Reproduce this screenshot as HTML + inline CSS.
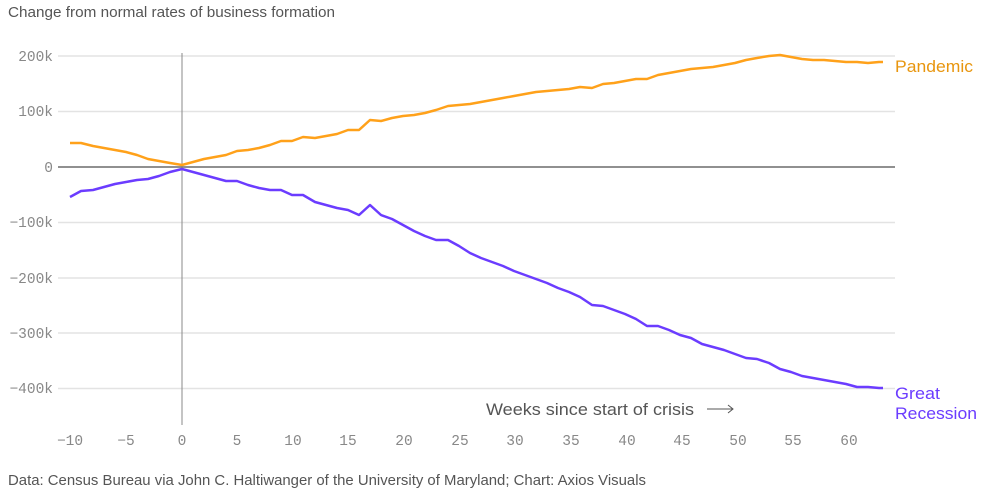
<!DOCTYPE html>
<html><head><meta charset="utf-8"><style>
body{margin:0;background:#fff;width:987px;height:497px;overflow:hidden;font-family:"Liberation Sans",sans-serif}
</style></head><body>
<svg width="987" height="497" xmlns="http://www.w3.org/2000/svg">
<text x="8" y="17" font-size="15" fill="#555" font-family="Liberation Sans" textLength="327" lengthAdjust="spacingAndGlyphs">Change from normal rates of business formation</text>
<g stroke="#e3e3e3" stroke-width="1.5">
<line x1="58" y1="56" x2="895" y2="56"/><line x1="58" y1="111.5" x2="895" y2="111.5"/>
<line x1="58" y1="222.5" x2="895" y2="222.5"/><line x1="58" y1="278" x2="895" y2="278"/>
<line x1="58" y1="333" x2="895" y2="333"/><line x1="58" y1="388.5" x2="895" y2="388.5"/>
</g>
<line x1="58" y1="167" x2="895" y2="167" stroke="#222" stroke-width="1"/>
<line x1="182" y1="53" x2="182" y2="425" stroke="#888" stroke-width="1"/>
<g font-family="Liberation Mono" font-size="14.5" fill="#888" text-anchor="end">
<text x="53" y="61">200k</text><text x="53" y="116">100k</text><text x="53" y="172">0</text>
<text x="53" y="227">−100k</text><text x="53" y="283">−200k</text><text x="53" y="338">−300k</text><text x="53" y="393">−400k</text>
</g>
<g font-family="Liberation Mono" font-size="14.5" fill="#888" text-anchor="middle">
<text x="70" y="445">−10</text><text x="126" y="445">−5</text><text x="182" y="445">0</text><text x="237" y="445">5</text><text x="293" y="445">10</text><text x="348" y="445">15</text><text x="404" y="445">20</text><text x="460" y="445">25</text><text x="515" y="445">30</text><text x="571" y="445">35</text><text x="627" y="445">40</text><text x="682" y="445">45</text><text x="738" y="445">50</text><text x="793" y="445">55</text><text x="849" y="445">60</text>
</g>
<polyline fill="none" stroke="#ffa11a" stroke-width="2.5" stroke-linejoin="round" points="70,143 81,143 93,146 104,148 115,150 126,152 137,155 148,159 159,161 170,163 182,165 193,162 204,159 215,157 226,155 237,151 248,150 259,148 270,145 281,141 292,141 303,137 315,138 326,136 337,134 348,130 359,130 370,120 381,121 392,118 403,116 414,115 425,113 436,110 448,106 459,105 470,104 481,102 492,100 503,98 514,96 525,94 536,92 547,91 558,90 569,89 580,87 592,88 603,84 614,83 625,81 636,79 647,79 658,75 669,73 680,71 691,69 702,68 713,67 724,65 735,63 746,60 757,58 769,56 780,55 791,57 802,59 813,60 824,60 835,61 846,62 857,62 868,63 879,62 883,62"/>
<polyline fill="none" stroke="#6b3cff" stroke-width="2.5" stroke-linejoin="round" points="70,197 81,191 93,190 104,187 115,184 126,182 137,180 148,179 159,176 170,172 182,169 193,172 204,175 215,178 226,181 237,181 248,185 259,188 270,190 281,190 292,195 303,195 315,202 326,205 337,208 348,210 359,215 370,205 381,215 392,219 403,225 414,231 425,236 436,240 448,240 459,246 470,253 481,258 492,262 503,266 514,271 525,275 536,279 547,283 558,288 569,292 580,297 592,305 603,306 614,310 625,314 636,319 647,326 658,326 669,330 680,335 691,338 702,344 713,347 724,350 735,354 746,358 757,359 769,363 780,369 791,372 802,376 813,378 824,380 835,382 846,384 857,387 868,387 879,388 883,388"/>
<text x="895" y="72" font-size="17" fill="#e8960f" textLength="78" lengthAdjust="spacingAndGlyphs">Pandemic</text>
<text x="895" y="399" font-size="17" fill="#6b3cff" textLength="45" lengthAdjust="spacingAndGlyphs">Great</text>
<text x="895" y="419" font-size="17" fill="#6b3cff" textLength="82" lengthAdjust="spacingAndGlyphs">Recession</text>
<text x="486" y="415" font-size="17" fill="#555" textLength="208" lengthAdjust="spacingAndGlyphs">Weeks since start of crisis</text>
<line x1="707" y1="409" x2="733" y2="409" stroke="#555" stroke-width="1"/>
<polyline points="728,405 733,409 728,413" fill="none" stroke="#555" stroke-width="1"/>
<text x="8" y="485" font-size="14.5" fill="#555" textLength="638" lengthAdjust="spacingAndGlyphs">Data: Census Bureau via John C. Haltiwanger of the University of Maryland; Chart: Axios Visuals</text>
</svg>
</body></html>
